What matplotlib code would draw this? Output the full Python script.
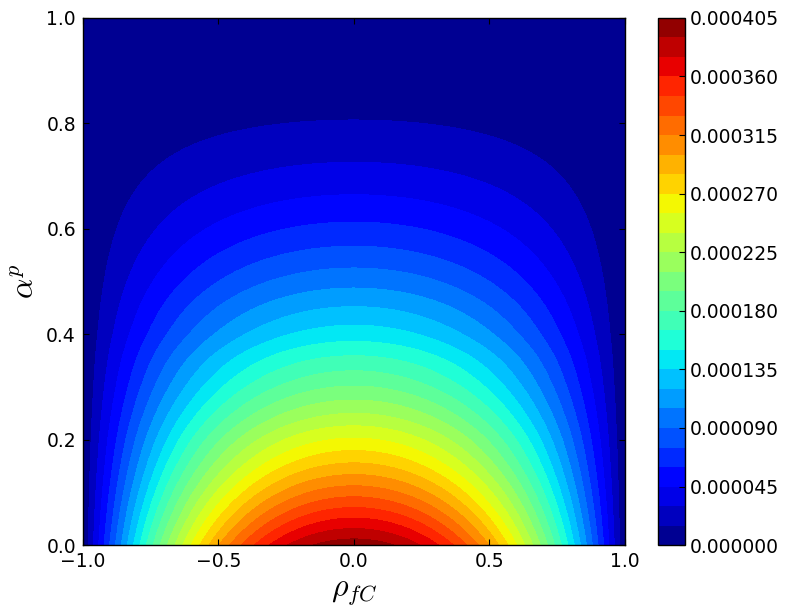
import numpy as np
import matplotlib
matplotlib.use("Agg")
import matplotlib.pyplot as plt

rho_nodes = [-1.0, -0.9, -0.8, -0.7, -0.6, -0.5, -0.4, -0.3, -0.2, -0.1, 0.0,
             0.1, 0.2, 0.3, 0.4, 0.5, 0.6, 0.7, 0.8, 0.9, 1.0]
rho_shape = [0.0, 0.19, 0.36, 0.51, 0.64, 0.75, 0.84, 0.91, 0.96, 0.99, 1.0,
             0.99, 0.96, 0.91, 0.84, 0.75, 0.64, 0.51, 0.36, 0.19, 0.0]

# value along alpha^p at rho_fC = 0
alpha_nodes = [0.0, 0.05, 0.1, 0.15, 0.2, 0.25, 0.3, 0.35, 0.4, 0.45, 0.5,
               0.55, 0.6, 0.65, 0.7, 0.75, 0.8, 0.85, 0.9, 0.95, 1.0]
alpha_peak = [3.99e-4, 3.61e-4, 3.24e-4, 2.89e-4, 2.57e-4, 2.25e-4, 1.96e-4,
              1.70e-4, 1.43e-4, 1.21e-4, 1.00e-4, 0.81e-4, 0.64e-4, 0.49e-4,
              0.36e-4, 0.25e-4, 0.16e-4, 0.09e-4, 0.04e-4, 0.01e-4, 0.0]

levels = [i * 0.000015 for i in range(28)]
cbar_ticks = levels[::3]
x_ticks = [-1.0, -0.5, 0.0, 0.5, 1.0]
y_ticks = [0.0, 0.2, 0.4, 0.6, 0.8, 1.0]


def smooth_interp(x, xp, fp):
    """Cubic Hermite interpolation through the read points (no kinks)."""
    xp = np.asarray(xp, float)
    fp = np.asarray(fp, float)
    m = np.gradient(fp, xp)
    i = np.clip(np.searchsorted(xp, x) - 1, 0, len(xp) - 2)
    h = xp[i + 1] - xp[i]
    t = (x - xp[i]) / h
    h00 = 2 * t**3 - 3 * t**2 + 1
    h10 = t**3 - 2 * t**2 + t
    h01 = -2 * t**3 + 3 * t**2
    h11 = t**3 - t**2
    y = h00 * fp[i] + h10 * h * m[i] + h01 * fp[i + 1] + h11 * h * m[i + 1]
    return np.clip(y, 0, None)


plt.rcParams.update({
    "font.family": "DejaVu Sans",
    "font.size": 13.5,
    "mathtext.fontset": "cm",
    "xtick.direction": "in",
    "ytick.direction": "in",
    "xtick.top": True,
    "ytick.right": True,
    "xtick.major.size": 4,
    "ytick.major.size": 4,
    "axes.linewidth": 1.0,
})

rho = np.linspace(-1, 1, 801)
alpha = np.linspace(0, 1, 801)
Z = np.outer(smooth_interp(alpha, alpha_nodes, alpha_peak),
             smooth_interp(rho, rho_nodes, rho_shape))

fig = plt.figure(figsize=(7.89, 6.16), dpi=100)
ax = fig.add_axes([0.105, 0.115, 0.687, 0.856])
cax = fig.add_axes([0.834, 0.115, 0.034, 0.856])

cs = ax.contourf(rho, alpha, Z, levels=levels, cmap="jet")
ax.set_xlim(-1, 1)
ax.set_ylim(0, 1)
ax.set_xticks(x_ticks)
ax.set_yticks(y_ticks)
ax.tick_params(pad=5)
ax.set_xlabel(r"$\rho_{fC}$", fontsize=23)
ax.set_ylabel(r"$\alpha^p$", fontsize=23)

cb = fig.colorbar(cs, cax=cax, ticks=cbar_ticks, format="%.6f")
cb.ax.tick_params(direction="in", length=4)
cb.outline.set_linewidth(1.0)

fig.savefig("out.png", dpi=100)
